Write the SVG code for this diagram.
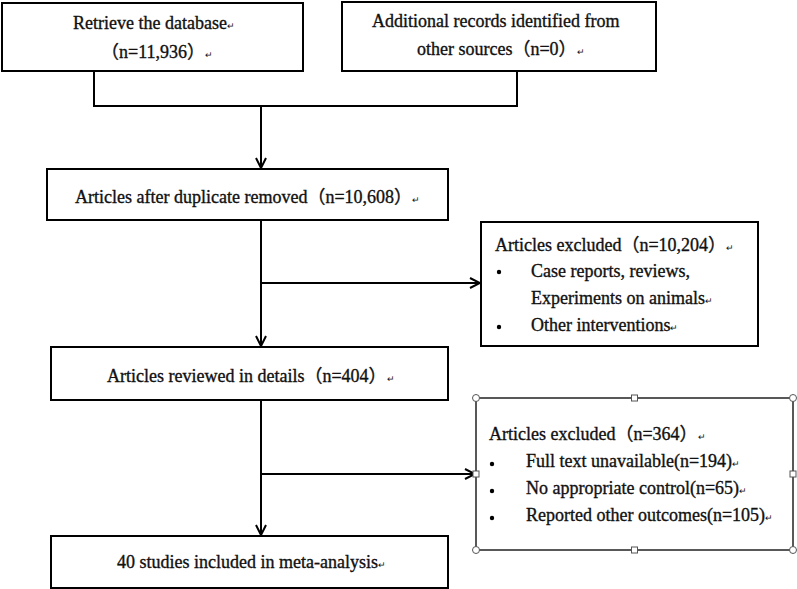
<svg xmlns="http://www.w3.org/2000/svg" width="797" height="589" viewBox="0 0 797 589">
<style>
.box{fill:#fff;stroke:#000;stroke-width:2}
.ln{fill:none;stroke:#000;stroke-width:2}
text{font-family:"Liberation Serif","Noto Sans CJK SC",serif;font-size:18px;fill:#111;stroke:#111;stroke-width:0.35}
.pm{font-size:9px;stroke-width:0}
.h{fill:#fff;stroke:#555;stroke-width:1}
</style>
<defs>
<marker id="arr" viewBox="0 0 12 12" refX="11" refY="6" markerWidth="12" markerHeight="12" markerUnits="userSpaceOnUse" orient="auto">
<path d="M1,1 L11,6 L1,11" fill="none" stroke="#000" stroke-width="2"/>
</marker>
</defs>
<rect width="797" height="589" fill="#fff"/>
<g id="connectors">
<path class="ln" d="M94,71 V106 H517 V71"/>
<path class="ln" d="M261,106 V168" marker-end="url(#arr)"/>
<path class="ln" d="M261,220 V346" marker-end="url(#arr)"/>
<path class="ln" d="M261,283 H480" marker-end="url(#arr)"/>
<path class="ln" d="M261,400 V535" marker-end="url(#arr)"/>
<path class="ln" d="M261,474 H475" marker-end="url(#arr)"/>
</g>
<g id="n1">
<rect class="box" x="2" y="3" width="301" height="68"/>
<text x="73" y="29">Retrieve the database<tspan class="pm">↵</tspan></text>
<text x="101" y="58">（n=11,936）<tspan class="pm">↵</tspan></text>
</g>
<g id="n2">
<rect class="box" x="342" y="2" width="314" height="69"/>
<text x="372" y="27">Additional records identified from</text>
<text x="417" y="55">other sources（n=0）<tspan class="pm">↵</tspan></text>
</g>
<g id="n3">
<rect class="box" x="47" y="169" width="401" height="51"/>
<text x="75" y="203">Articles after duplicate removed（n=10,608）<tspan class="pm">↵</tspan></text>
</g>
<g id="n4">
<rect class="box" x="481" y="222" width="277" height="124"/>
<text x="495" y="251">Articles excluded（n=10,204）<tspan class="pm">↵</tspan></text>
<circle cx="499" cy="272" r="2.2" fill="#000"/>
<text x="531" y="277">Case reports, reviews,</text>
<text x="531" y="304">Experiments on animals<tspan class="pm">↵</tspan></text>
<circle cx="499" cy="327" r="2.2" fill="#000"/>
<text x="531" y="331">Other interventions<tspan class="pm">↵</tspan></text>
</g>
<g id="n5">
<rect class="box" x="51" y="347" width="397" height="53"/>
<text x="107" y="382">Articles reviewed in details（n=404）<tspan class="pm">↵</tspan></text>
</g>
<g id="n6">
<rect x="476" y="398" width="317" height="152" fill="#fff" stroke="#222" stroke-width="1.5"/>
<circle class="h" cx="476" cy="398" r="3.5"/>
<circle class="h" cx="793" cy="398" r="3.5"/>
<circle class="h" cx="476" cy="550" r="3.5"/>
<circle class="h" cx="793" cy="550" r="3.5"/>
<rect class="h" x="631.5" y="395" width="6" height="6"/>
<rect class="h" x="631.5" y="547" width="6" height="6"/>
<rect class="h" x="473" y="471" width="6" height="6"/>
<rect class="h" x="790" y="471" width="6" height="6"/>
<text x="489" y="440">Articles excluded（n=364）<tspan class="pm">↵</tspan></text>
<circle cx="492" cy="464" r="2.2" fill="#000"/>
<text x="526" y="467">Full text unavailable(n=194)<tspan class="pm">↵</tspan></text>
<circle cx="492" cy="491" r="2.2" fill="#000"/>
<text x="526" y="494">No appropriate control(n=65)<tspan class="pm">↵</tspan></text>
<circle cx="492" cy="518" r="2.2" fill="#000"/>
<text x="526" y="521">Reported other outcomes(n=105)<tspan class="pm">↵</tspan></text>
</g>
<g id="n7">
<rect class="box" x="51" y="536" width="397" height="52"/>
<text x="117" y="568">40 studies included in meta-analysis<tspan class="pm">↵</tspan></text>
</g>
</svg>
